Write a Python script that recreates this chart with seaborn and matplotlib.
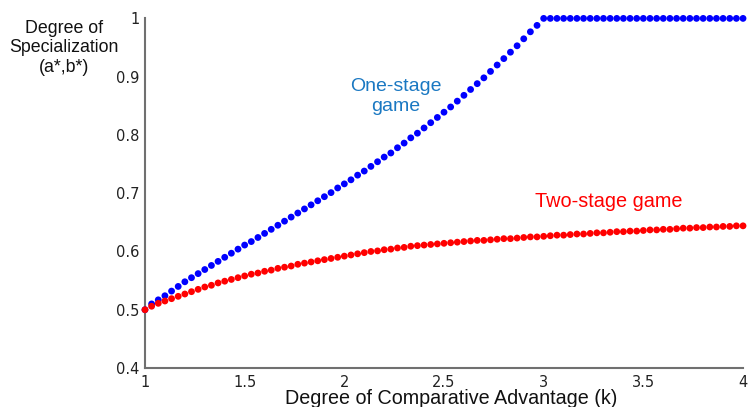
import numpy as np
import pandas as pd
import matplotlib
matplotlib.use("Agg")
import matplotlib.pyplot as plt
import seaborn as sns

# Degree of comparative advantage k, sampled every 1/30 from 1 to 4
k_values = [round(1 + i / 30, 6) for i in range(91)]

one_stage = [
    0.500, 0.510, 0.517, 0.524, 0.532, 0.540, 0.548, 0.555, 0.562, 0.569,
    0.576, 0.583, 0.590, 0.597, 0.604, 0.611, 0.617, 0.624, 0.631, 0.638,
    0.645, 0.652, 0.659, 0.666, 0.673, 0.680, 0.687, 0.694, 0.701, 0.709,
    0.716, 0.723, 0.731, 0.738, 0.746, 0.754, 0.762, 0.769, 0.778, 0.786,
    0.795, 0.803, 0.812, 0.821, 0.830, 0.839, 0.848, 0.858, 0.868, 0.878,
    0.888, 0.898, 0.909, 0.920, 0.931, 0.942, 0.953, 0.965, 0.977, 0.988,
    1.000, 1.000, 1.000, 1.000, 1.000, 1.000, 1.000, 1.000, 1.000, 1.000,
    1.000, 1.000, 1.000, 1.000, 1.000, 1.000, 1.000, 1.000, 1.000, 1.000,
    1.000, 1.000, 1.000, 1.000, 1.000, 1.000, 1.000, 1.000, 1.000, 1.000,
    1.000,
]

two_stage = [
    0.500, 0.506, 0.511, 0.515, 0.519, 0.523, 0.527, 0.531, 0.535, 0.539,
    0.542, 0.546, 0.549, 0.552, 0.555, 0.558, 0.561, 0.563, 0.566, 0.568,
    0.571, 0.573, 0.575, 0.578, 0.580, 0.582, 0.584, 0.586, 0.588, 0.590,
    0.592, 0.594, 0.596, 0.598, 0.600, 0.601, 0.603, 0.604, 0.606, 0.607,
    0.609, 0.610, 0.611, 0.612, 0.613, 0.614, 0.615, 0.616, 0.617, 0.618,
    0.619, 0.619, 0.620, 0.621, 0.622, 0.622, 0.623, 0.624, 0.625, 0.625,
    0.626, 0.627, 0.628, 0.628, 0.629, 0.630, 0.630, 0.631, 0.632, 0.632,
    0.633, 0.634, 0.634, 0.635, 0.635, 0.636, 0.637, 0.637, 0.638, 0.638,
    0.639, 0.640, 0.640, 0.641, 0.641, 0.642, 0.642, 0.643, 0.643, 0.644,
    0.644,
]

x_ticks = [1, 1.5, 2, 2.5, 3, 3.5, 4]
x_tick_labels = ["1", "1.5", "2", "2.5", "3", "3.5", "4"]
y_ticks = [0.4, 0.5, 0.6, 0.7, 0.8, 0.9, 1.0]
y_tick_labels = ["0.4", "0.5", "0.6", "0.7", "0.8", "0.9", "1"]

x_label = "Degree of Comparative Advantage (k)"
y_label = "Degree of\nSpecialization\n(a*,b*)"
one_stage_label = "One-stage\ngame"
two_stage_label = "Two-stage game"

df = pd.DataFrame({
    "k": k_values * 2,
    "value": one_stage + two_stage,
    "game": ["one"] * len(k_values) + ["two"] * len(k_values),
})

sns.set_style("white")
plt.rcParams["font.family"] = ["DejaVu Sans"]

fig = plt.figure(figsize=(7.5, 4.07), dpi=100)
ax = fig.add_axes([0.1933, 0.0958, 0.7974, 0.859])

sns.scatterplot(data=df, x="k", y="value", hue="game",
                palette={"one": "#0000FF", "two": "#FF0000"},
                s=24, linewidth=0, legend=False, ax=ax, clip_on=False, zorder=3)

ax.set_xlim(1, 4)
ax.set_ylim(0.4, 1.0)
ax.set_xticks(x_ticks)
ax.set_xticklabels(x_tick_labels)
ax.set_yticks(y_ticks)
ax.set_yticklabels(y_tick_labels)
ax.tick_params(axis="both", direction="in", length=5, width=1, color="#444444",
               labelsize=10.5, labelcolor="#222222", pad=4)
ax.tick_params(axis="x", pad=5)

for side in ["top", "right"]:
    ax.spines[side].set_visible(False)
for side in ["left", "bottom"]:
    ax.spines[side].set_color("#707070")
    ax.spines[side].set_linewidth(1.5)

ax.set_xlabel("")
ax.set_ylabel("")
fig.text(451 / 750, 1 - 399 / 407, x_label, ha="center", va="center",
         fontsize=14.2, family=["Liberation Sans"], color="#111111")
fig.text(64 / 750, 1 - 48 / 407, y_label, ha="center", va="center",
         fontsize=12.8, family=["Liberation Sans"], color="#111111", linespacing=1.2)

ax.text(2.257, 0.866, one_stage_label, ha="center", va="center", fontsize=14,
        family=["Liberation Sans"], color="#1A78C2", linespacing=1.18)
ax.text(3.327, 0.686, two_stage_label, ha="center", va="center", fontsize=14.3,
        family=["Liberation Sans"], color="#FF0000")

fig.savefig("out.png", dpi=100)
